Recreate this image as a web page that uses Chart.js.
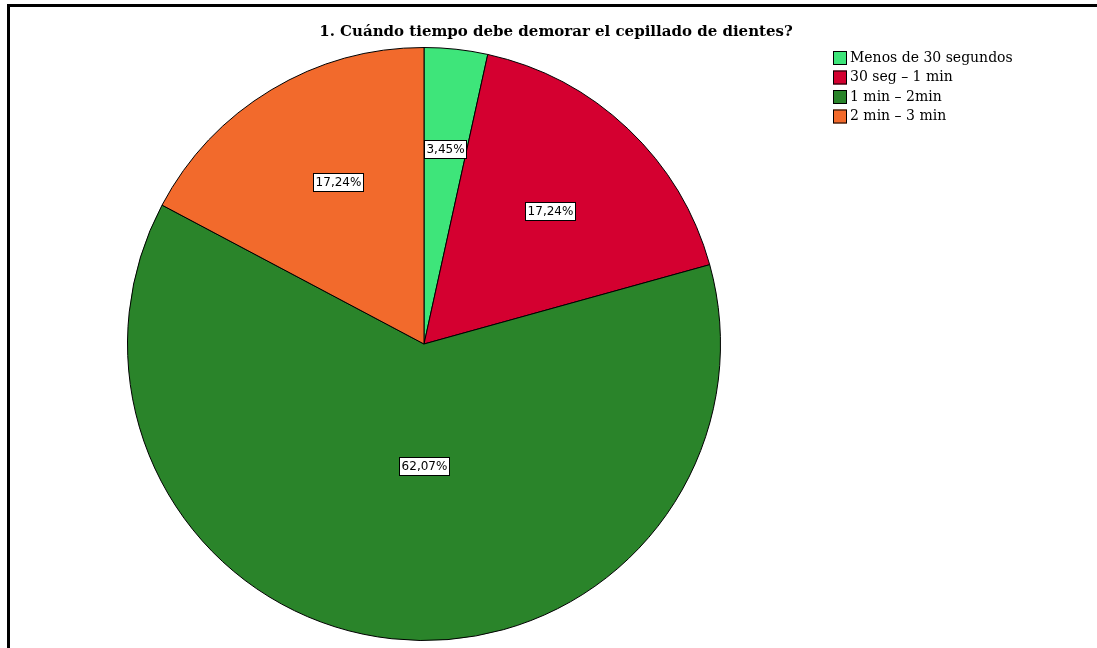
<!DOCTYPE html>
<html>
<head>
<meta charset="utf-8">
<script src="https://cdn.jsdelivr.net/npm/chart.js@4"></script>
<style>
  html, body { margin: 0; padding: 0; background: #fff; }
  #wrap { width: 1097px; height: 648px; position: relative; }
</style>
</head>
<body>
<div id="wrap"><canvas id="chartPie"></canvas></div>
<script>
'use strict';

const TITLE = '1. Cuándo tiempo debe demorar el cepillado de dientes?';
const CATEGORIES = ['Menos de 30 segundos', '30 seg \u2013 1 min', '1 min \u2013 2min', '2 min \u2013 3 min'];
const PERCENTS = [3.45, 17.24, 62.07, 17.24];
const COLORS = ['rgb(62, 229, 122)', 'rgb(212, 0, 48)', 'rgb(42, 132, 42)', 'rgb(242, 106, 44)'];

// where each slice label sits: fraction of radius, and a small turn in degrees
const LABEL_RADIUS = [0.66, 0.62, 0.41, 0.62];
const LABEL_TURN = [0, 0, -6, 3];

function formatPct(v) {
    return v.toFixed(2).replace('.', ',') + '%';
}

const framePlugin = {
    id: 'frame',
    beforeDraw(chart) {
        const ctx = chart.ctx;
        ctx.save();
        ctx.fillStyle = '#fff';
        ctx.fillRect(0, 0, chart.width, chart.height);
        ctx.fillStyle = '#000';
        ctx.fillRect(7, 4, chart.width - 7, 3);
        ctx.fillRect(7, 4, 3, chart.height - 4);
        ctx.restore();
    },
    afterDraw(chart) {
        const ctx = chart.ctx;
        ctx.save();

        // title
        ctx.fillStyle = '#000';
        ctx.font = 'bold 15px "DejaVu Serif"';
        ctx.textAlign = 'center';
        ctx.textBaseline = 'middle';
        ctx.fillText(TITLE, 556, 32);

        // legend
        ctx.font = '14px "DejaVu Serif"';
        ctx.textAlign = 'left';
        for (let i = 0; i < CATEGORIES.length; i++) {
            let y = 51 + i * 19.5;
            ctx.fillStyle = COLORS[i];
            ctx.fillRect(833, y, 14, 14);
            ctx.strokeStyle = '#000';
            ctx.lineWidth = 1;
            ctx.strokeRect(833.5, y + 0.5, 13, 13);
            ctx.fillStyle = '#000';
            ctx.fillText(CATEGORIES[i], 850, y + 7);
        }

        // slice labels
        const meta = chart.getDatasetMeta(0);
        ctx.font = '12px "DejaVu Sans"';
        ctx.textAlign = 'center';
        for (let i = 0; i < meta.data.length; i++) {
            const arc = meta.data[i];
            const mid = (arc.startAngle + arc.endAngle) / 2 + LABEL_TURN[i] * Math.PI / 180;
            const r = arc.outerRadius * LABEL_RADIUS[i];
            const x = arc.x + Math.cos(mid) * r;
            const y = arc.y + Math.sin(mid) * r;
            const txt = formatPct(PERCENTS[i]);
            const w = Math.round(ctx.measureText(txt).width) + 4;
            const h = 18;
            const bx = Math.round(x - w / 2) + 0.5;
            const by = Math.round(y - h / 2) + 0.5;
            ctx.fillStyle = '#fff';
            ctx.fillRect(bx, by, w, h);
            ctx.strokeStyle = '#000';
            ctx.strokeRect(bx, by, w, h);
            ctx.fillStyle = '#000';
            ctx.fillText(txt, bx + w / 2, by + h / 2 + 0.5);
        }
        ctx.restore();
    }
};

const config = {
    type: 'pie',
    data: {
        labels: CATEGORIES,
        datasets: [{
            data: PERCENTS,
            backgroundColor: COLORS,
            borderColor: '#000',
            borderWidth: 1
        }]
    },
    options: {
        responsive: false,
        animation: false,
        layout: { padding: { left: 127, right: 376, top: 47, bottom: 7 } },
        plugins: {
            legend: { display: false },
            tooltip: { enabled: false }
        }
    },
    plugins: [framePlugin]
};

const canvas = document.getElementById('chartPie');
canvas.width = 1097;
canvas.height = 648;
new Chart(canvas, config);
</script>
</body>
</html>
